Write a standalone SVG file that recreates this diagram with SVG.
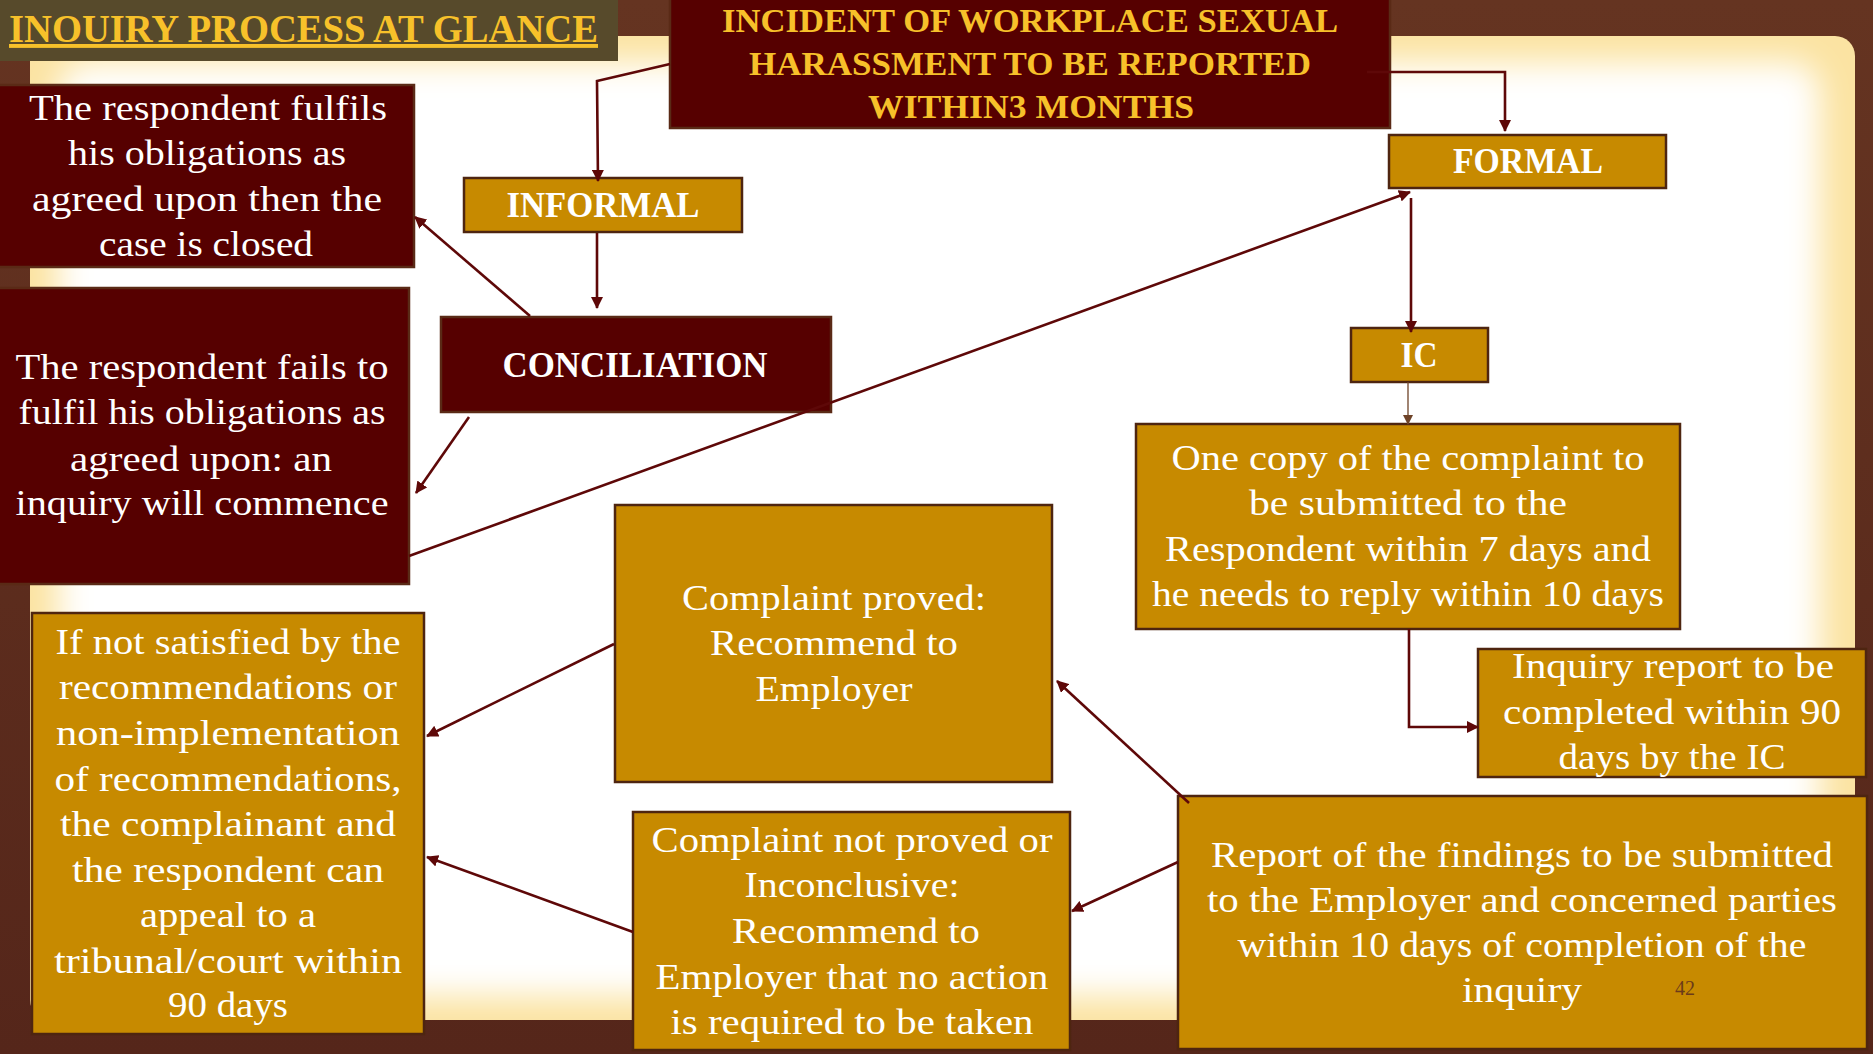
<svg xmlns="http://www.w3.org/2000/svg" width="1873" height="1054" viewBox="0 0 1873 1054">
<defs>
<linearGradient id="bg" x1="0" y1="0" x2="0" y2="1">
<stop offset="0" stop-color="#653421"/>
<stop offset="1" stop-color="#55261a"/>
</linearGradient>
<clipPath id="panelclip">
<rect x="30" y="36" width="1825" height="984" rx="20" ry="20"/>
</clipPath>
<filter id="soft" x="-10%" y="-10%" width="120%" height="120%">
<feGaussianBlur stdDeviation="16"/>
</filter>
<marker id="ah" viewBox="0 0 12 12" refX="11" refY="6" markerWidth="12" markerHeight="12" markerUnits="userSpaceOnUse" orient="auto">
<path d="M0,0 L12,6 L0,12 z" fill="#5e0808"/>
</marker>
<marker id="ahs" viewBox="0 0 10 10" refX="9" refY="5" markerWidth="10" markerHeight="10" markerUnits="userSpaceOnUse" orient="auto">
<path d="M0,0 L10,5 L0,10 z" fill="#6e4328"/>
</marker>
</defs>
<style>
.red{fill:#560000;stroke:#5a2a16;stroke-width:2.5}
.gold{fill:#c78a00;stroke:#4e2510;stroke-width:2.5}
.t{font-family:"Liberation Serif","Times New Roman",serif;font-size:36px;fill:#ffffff;text-anchor:middle}
.b{font-family:"Liberation Serif","Times New Roman",serif;font-weight:bold;font-size:36px;fill:#ffffff;text-anchor:middle}
.y{font-family:"Liberation Serif","Times New Roman",serif;font-weight:bold;font-size:34px;fill:#f7c12a;text-anchor:middle}
.c{fill:none;stroke:#5e0808;stroke-width:2.6;marker-end:url(#ah)}
</style>
<rect x="0" y="0" width="1873" height="1054" fill="url(#bg)"/>
<g id="panel" clip-path="url(#panelclip)">
<rect x="30" y="36" width="1825" height="984" fill="#fbe3a2"/>
<rect x="58" y="62" width="1762" height="934" rx="30" ry="30" fill="#ffffff" filter="url(#soft)"/>
</g>

<g id="title">
<rect x="0" y="0" width="618" height="61" fill="#574a2b"/>
<text x="9" y="42" font-family="Liberation Serif, serif" font-weight="bold" font-size="39" fill="#f7c12a" text-decoration="underline" textLength="589" lengthAdjust="spacingAndGlyphs">INOUIRY PROCESS AT GLANCE</text>
</g>

<g id="incident">
<rect class="red" x="670" y="-2" width="720" height="130"/>
<text class="y" x="1030" y="32" textLength="616" lengthAdjust="spacingAndGlyphs">INCIDENT OF WORKPLACE SEXUAL</text>
<text class="y" x="1030" y="75" textLength="562" lengthAdjust="spacingAndGlyphs">HARASSMENT TO BE REPORTED</text>
<text class="y" x="1031" y="118" textLength="326" lengthAdjust="spacingAndGlyphs">WITHIN3 MONTHS</text>
</g>

<g id="informal">
<rect class="gold" x="464" y="178" width="278" height="54"/>
<text class="b" x="603" y="217" textLength="193" lengthAdjust="spacingAndGlyphs">INFORMAL</text>
</g>

<g id="formal">
<rect class="gold" x="1389" y="135" width="277" height="53"/>
<text class="b" x="1528" y="173" textLength="150" lengthAdjust="spacingAndGlyphs">FORMAL</text>
</g>

<g id="conciliation">
<rect class="red" x="441" y="317" width="390" height="95"/>
<text class="b" x="635" y="377" textLength="265" lengthAdjust="spacingAndGlyphs">CONCILIATION</text>
</g>

<g id="ic">
<rect class="gold" x="1351" y="328" width="137" height="54"/>
<text class="b" x="1419" y="367" textLength="37" lengthAdjust="spacingAndGlyphs">IC</text>
</g>

<g id="fulfils">
<rect class="red" x="-2" y="85" width="416" height="182"/>
<text class="t" x="208" y="120" textLength="358" lengthAdjust="spacingAndGlyphs">The respondent fulfils</text>
<text class="t" x="207" y="165" textLength="278" lengthAdjust="spacingAndGlyphs">his obligations as</text>
<text class="t" x="207" y="211" textLength="350" lengthAdjust="spacingAndGlyphs">agreed upon then the</text>
<text class="t" x="206" y="256" textLength="214" lengthAdjust="spacingAndGlyphs">case is closed</text>
</g>

<g id="fails">
<rect class="red" x="-2" y="288" width="411" height="296"/>
<text class="t" x="202" y="379" textLength="373" lengthAdjust="spacingAndGlyphs">The respondent fails to</text>
<text class="t" x="202" y="424" textLength="367" lengthAdjust="spacingAndGlyphs">fulfil his obligations as</text>
<text class="t" x="201" y="471" textLength="262" lengthAdjust="spacingAndGlyphs">agreed upon: an</text>
<text class="t" x="202" y="515" textLength="373" lengthAdjust="spacingAndGlyphs">inquiry will commence</text>
</g>

<g id="onecopy">
<rect class="gold" x="1136" y="424" width="544" height="205"/>
<text class="t" x="1408" y="470" textLength="473" lengthAdjust="spacingAndGlyphs">One copy of the complaint to</text>
<text class="t" x="1408" y="515" textLength="318" lengthAdjust="spacingAndGlyphs">be submitted to the</text>
<text class="t" x="1408" y="561" textLength="486" lengthAdjust="spacingAndGlyphs">Respondent within 7 days and</text>
<text class="t" x="1408" y="606" textLength="512" lengthAdjust="spacingAndGlyphs">he needs to reply within 10 days</text>
</g>

<g id="proved">
<rect class="gold" x="615" y="505" width="437" height="277"/>
<text class="t" x="834" y="610" textLength="304" lengthAdjust="spacingAndGlyphs">Complaint proved:</text>
<text class="t" x="834" y="655" textLength="248" lengthAdjust="spacingAndGlyphs">Recommend to</text>
<text class="t" x="834" y="701" textLength="157" lengthAdjust="spacingAndGlyphs">Employer</text>
</g>

<g id="inquiryreport">
<rect class="gold" x="1478" y="649" width="388" height="128"/>
<text class="t" x="1673" y="678" textLength="322" lengthAdjust="spacingAndGlyphs">Inquiry report to be</text>
<text class="t" x="1672" y="724" textLength="338" lengthAdjust="spacingAndGlyphs">completed within 90</text>
<text class="t" x="1672" y="769" textLength="227" lengthAdjust="spacingAndGlyphs">days by the IC</text>
</g>

<g id="appeal">
<rect class="gold" x="32" y="613" width="392" height="421"/>
<text class="t" x="228" y="654" textLength="345" lengthAdjust="spacingAndGlyphs">If not satisfied by the</text>
<text class="t" x="228" y="699" textLength="338" lengthAdjust="spacingAndGlyphs">recommendations or</text>
<text class="t" x="228" y="745" textLength="344" lengthAdjust="spacingAndGlyphs">non-implementation</text>
<text class="t" x="228" y="791" textLength="347" lengthAdjust="spacingAndGlyphs">of recommendations,</text>
<text class="t" x="228" y="836" textLength="336" lengthAdjust="spacingAndGlyphs">the complainant and</text>
<text class="t" x="228" y="882" textLength="312" lengthAdjust="spacingAndGlyphs">the respondent can</text>
<text class="t" x="228" y="927" textLength="176" lengthAdjust="spacingAndGlyphs">appeal to a</text>
<text class="t" x="228" y="973" textLength="348" lengthAdjust="spacingAndGlyphs">tribunal/court within</text>
<text class="t" x="228" y="1017" textLength="120" lengthAdjust="spacingAndGlyphs">90 days</text>
</g>

<g id="notproved">
<rect class="gold" x="633" y="812" width="437" height="238"/>
<text class="t" x="852" y="852" textLength="401" lengthAdjust="spacingAndGlyphs">Complaint not proved or</text>
<text class="t" x="852" y="897" textLength="215" lengthAdjust="spacingAndGlyphs">Inconclusive:</text>
<text class="t" x="856" y="943" textLength="248" lengthAdjust="spacingAndGlyphs">Recommend to</text>
<text class="t" x="852" y="989" textLength="393" lengthAdjust="spacingAndGlyphs">Employer that no action</text>
<text class="t" x="852" y="1034" textLength="363" lengthAdjust="spacingAndGlyphs">is required to be taken</text>
</g>

<g id="report">
<rect class="gold" x="1178" y="796" width="689" height="253"/>
<text class="t" x="1522" y="867" textLength="622" lengthAdjust="spacingAndGlyphs">Report of the findings to be submitted</text>
<text class="t" x="1522" y="912" textLength="630" lengthAdjust="spacingAndGlyphs">to the Employer and concerned parties</text>
<text class="t" x="1522" y="957" textLength="569" lengthAdjust="spacingAndGlyphs">within 10 days of completion of the</text>
<text class="t" x="1522" y="1002" textLength="120" lengthAdjust="spacingAndGlyphs">inquiry</text>
<text x="1685" y="995" font-family="Liberation Serif, serif" font-size="20" fill="#6b3a1a" text-anchor="middle">42</text>
</g>

<g id="connectors">
<polyline class="c" points="670,64 597,81 598,181"/>
<line class="c" x1="597" y1="233" x2="597" y2="308"/>
<line class="c" x1="530" y1="316" x2="415" y2="217"/>
<line class="c" x1="469" y1="417" x2="416" y2="493"/>
<line class="c" x1="409" y1="556" x2="1410" y2="192"/>
<polyline class="c" points="1367,72 1505,72 1505,131"/>
<line class="c" x1="1411" y1="198" x2="1411" y2="332"/>
<line x1="1408" y1="382" x2="1408" y2="424" stroke="#6e4328" stroke-width="1.3" marker-end="url(#ahs)"/>
<polyline class="c" points="1409,629 1409,727 1478,727"/>
<line class="c" x1="1189" y1="803" x2="1057" y2="681"/>
<line class="c" x1="1178" y1="862" x2="1072" y2="911"/>
<line class="c" x1="614" y1="644" x2="427" y2="736"/>
<line class="c" x1="633" y1="932" x2="427" y2="857"/>
</g>
</svg>
